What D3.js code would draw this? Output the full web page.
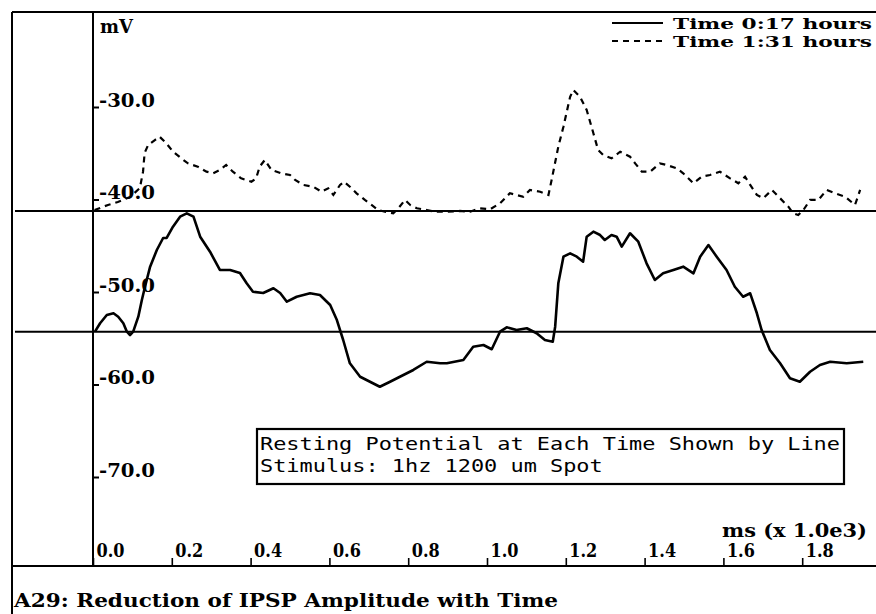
<!DOCTYPE html>
<html>
<head>
<meta charset="utf-8">
<script src="https://cdn.jsdelivr.net/npm/d3@7"></script>
<style>
  body { margin: 0; background: #fff; }
  svg { display: block; }
  .serif { font-family: "DejaVu Serif", serif; font-weight: bold; fill: #000; }
  .mono { font-family: "DejaVu Sans Mono", monospace; fill: #000; }
</style>
</head>
<body>
<svg id="chart" width="876" height="614"></svg>
<script>
// Axis ticks
const xTicks = [0.0, 0.2, 0.4, 0.6, 0.8, 1.0, 1.2, 1.4, 1.6, 1.8];
const yTicks = [-30, -40, -50, -60, -70];

// Series labels and resting potential of each recording (mV)
const seriesNames = ["Time 0:17 hours", "Time 1:31 hours"];
const restingPotentials = [-54.3, -41.24];

// Membrane potential trace at 0:17 hours: [time (s), mV]
const traceEarly = [
  [0.005,-54.29],[0.018,-53.38],[0.035,-52.49],[0.052,-52.30],[0.064,-52.67],[0.077,-53.38],
  [0.086,-54.29],[0.094,-54.65],[0.102,-54.29],[0.115,-52.67],[0.124,-50.86],[0.132,-49.43],
  [0.145,-47.26],[0.162,-45.46],[0.178,-44.16],[0.187,-44.16],[0.203,-42.94],[0.221,-41.86],
  [0.238,-41.49],[0.255,-41.86],[0.272,-44.02],[0.297,-45.64],[0.322,-47.62],[0.348,-47.62],
  [0.373,-47.95],[0.390,-49.06],[0.406,-49.97],[0.432,-50.11],[0.458,-49.60],[0.475,-50.11],
  [0.492,-51.05],[0.517,-50.51],[0.551,-50.14],[0.576,-50.32],[0.602,-51.41],[0.619,-53.03],
  [0.635,-55.19],[0.652,-57.71],[0.678,-59.16],[0.703,-59.70],[0.728,-60.24],[0.754,-59.70],
  [0.779,-59.16],[0.813,-58.43],[0.847,-57.54],[0.881,-57.71],[0.898,-57.71],[0.940,-57.35],
  [0.965,-55.91],[0.991,-55.73],[1.012,-56.19],[1.033,-54.29],[1.050,-53.82],[1.075,-54.11],
  [1.101,-53.92],[1.126,-54.46],[1.147,-55.19],[1.167,-55.37],[1.173,-53.75],[1.181,-49.06],
  [1.194,-46.18],[1.211,-45.82],[1.228,-46.18],[1.244,-46.72],[1.253,-44.02],[1.270,-43.48],
  [1.287,-43.84],[1.299,-44.38],[1.316,-43.84],[1.329,-44.02],[1.342,-45.10],[1.363,-43.65],
  [1.384,-44.56],[1.405,-46.90],[1.426,-48.70],[1.447,-47.98],[1.473,-47.62],[1.498,-47.26],
  [1.524,-47.98],[1.541,-46.18],[1.562,-44.92],[1.583,-46.18],[1.608,-47.62],[1.629,-49.43],
  [1.650,-50.51],[1.668,-50.14],[1.685,-52.30],[1.697,-54.11],[1.718,-56.27],[1.744,-57.71],
  [1.769,-59.33],[1.794,-59.70],[1.820,-58.62],[1.845,-57.89],[1.871,-57.54],[1.913,-57.71],
  [1.955,-57.54]
];

// Membrane potential trace at 1:31 hours: [time (s), mV]
const traceLate = [
  [0.004,-41.14],[0.038,-40.59],[0.063,-40.27],[0.094,-39.73],[0.119,-38.76],[0.127,-36.99],
  [0.131,-34.97],[0.140,-34.11],[0.157,-33.57],[0.169,-33.21],[0.186,-33.92],[0.203,-34.83],
  [0.224,-35.55],[0.241,-36.09],[0.266,-36.45],[0.288,-36.99],[0.305,-37.17],[0.322,-36.81],
  [0.338,-36.27],[0.355,-36.99],[0.376,-37.71],[0.402,-38.08],[0.414,-37.71],[0.423,-36.45],
  [0.436,-35.73],[0.453,-36.81],[0.478,-37.17],[0.500,-37.35],[0.513,-37.89],[0.534,-38.43],
  [0.559,-38.62],[0.580,-39.16],[0.597,-38.79],[0.610,-39.51],[0.627,-38.43],[0.637,-38.08],
  [0.652,-38.62],[0.669,-39.33],[0.690,-40.05],[0.707,-40.59],[0.724,-41.14],[0.741,-41.32],
  [0.762,-41.49],[0.775,-40.95],[0.792,-40.05],[0.805,-40.59],[0.822,-40.95],[0.847,-41.14],
  [0.868,-41.32],[0.898,-41.32],[0.931,-41.24],[0.957,-41.32],[0.982,-40.95],[1.008,-41.06],
  [1.033,-40.41],[1.058,-39.33],[1.092,-39.70],[1.109,-38.97],[1.135,-39.16],[1.156,-39.51],
  [1.164,-37.89],[1.181,-34.29],[1.194,-32.13],[1.211,-28.89],[1.219,-28.16],[1.236,-28.89],
  [1.253,-30.32],[1.270,-32.84],[1.282,-34.65],[1.295,-35.19],[1.316,-35.55],[1.338,-34.83],
  [1.363,-35.37],[1.376,-36.09],[1.393,-36.99],[1.414,-36.99],[1.439,-36.09],[1.456,-36.27],
  [1.482,-36.63],[1.498,-37.17],[1.524,-38.25],[1.545,-37.54],[1.566,-37.35],[1.591,-36.99],
  [1.617,-37.71],[1.638,-38.25],[1.655,-37.54],[1.668,-38.43],[1.685,-39.51],[1.701,-39.87],
  [1.723,-38.97],[1.744,-39.87],[1.765,-40.78],[1.777,-41.49],[1.790,-41.68],[1.803,-41.14],
  [1.820,-40.05],[1.841,-40.05],[1.862,-38.97],[1.883,-39.33],[1.909,-39.70],[1.934,-40.59],
  [1.947,-38.97]
];

const noteLines = [
  "Resting Potential at Each Time Shown by Line",
  "Stimulus: 1hz 1200 um Spot"
];
const xUnitLabel = "ms (x 1.0e3)";
const yUnitLabel = "mV";
const caption = "A29: Reduction of IPSP Amplitude with Time";

const svg = d3.select("#chart");
const W = 876, H = 614;
const frameLeft = 12, frameTop = 12, axisBottom = 566;

const x = d3.scaleLinear().domain([0, 2]).range([93, 881]);
const y = d3.scaleLinear().domain([-30, -70]).range([107, 477]);
const fmt = d => d.toFixed(1);

svg.append("rect").attr("width", W).attr("height", H).attr("fill", "#fff");

// Outer frame: top rule, left rule, bottom rule
svg.append("line").attr("x1", frameLeft).attr("x2", W).attr("y1", frameTop).attr("y2", frameTop)
  .attr("stroke", "#000").attr("stroke-width", 2);
svg.append("line").attr("x1", frameLeft).attr("x2", frameLeft).attr("y1", frameTop).attr("y2", H)
  .attr("stroke", "#000").attr("stroke-width", 2);
svg.append("line").attr("x1", frameLeft).attr("x2", W).attr("y1", axisBottom).attr("y2", axisBottom)
  .attr("stroke", "#000").attr("stroke-width", 2);

// Vertical axis line
svg.append("line").attr("x1", x(0)).attr("x2", x(0)).attr("y1", frameTop).attr("y2", axisBottom)
  .attr("stroke", "#000").attr("stroke-width", 2);

// Y axis ticks and labels
const yAxis = svg.append("g").attr("transform", `translate(${x(0)},0)`)
  .call(d3.axisRight(y).tickValues(yTicks).tickSize(6).tickFormat(fmt));
yAxis.select(".domain").remove();
yAxis.selectAll(".tick line").attr("stroke", "#000").attr("stroke-width", 2);
yAxis.selectAll(".tick text")
  .attr("class", "serif").attr("x", 6).attr("y", -1).attr("dy", 0)
  .attr("font-size", 18).attr("text-anchor", "start")
  .attr("textLength", 56).attr("lengthAdjust", "spacingAndGlyphs");

// X axis ticks and labels
const xAxis = svg.append("g").attr("transform", `translate(0,${axisBottom})`)
  .call(d3.axisTop(x).tickValues(xTicks).tickSize(8).tickFormat(fmt));
xAxis.select(".domain").remove();
xAxis.selectAll(".tick line").attr("stroke", "#000").attr("stroke-width", 1.6);
xAxis.selectAll(".tick text")
  .attr("class", "serif").attr("x", 3).attr("y", -9).attr("dy", 0)
  .attr("font-size", 18).attr("text-anchor", "start")
  .attr("textLength", 28).attr("lengthAdjust", "spacingAndGlyphs");

// Axis unit labels
svg.append("text").attr("class", "serif").attr("x", 100).attr("y", 33)
  .attr("font-size", 19).text(yUnitLabel)
  .attr("textLength", 33).attr("lengthAdjust", "spacingAndGlyphs");
svg.append("text").attr("class", "serif").attr("x", 722).attr("y", 537)
  .attr("font-size", 18).text(xUnitLabel)
  .attr("textLength", 145).attr("lengthAdjust", "spacingAndGlyphs");

// Resting potential reference lines
svg.selectAll("line.rest").data(restingPotentials).enter().append("line")
  .attr("class", "rest")
  .attr("x1", frameLeft + 3).attr("x2", W)
  .attr("y1", d => y(d)).attr("y2", d => y(d))
  .attr("stroke", "#000").attr("stroke-width", 2);

// Traces
const line = d3.line().x(d => x(d[0])).y(d => y(d[1])).curve(d3.curveLinear);
svg.append("path").datum(traceEarly).attr("d", line)
  .attr("fill", "none").attr("stroke", "#000").attr("stroke-width", 2.6)
  .attr("stroke-linejoin", "round");
svg.append("path").datum(traceLate).attr("d", line)
  .attr("fill", "none").attr("stroke", "#000").attr("stroke-width", 2.2)
  .attr("stroke-dasharray", "6,5");

// Legend
const legend = svg.append("g");
seriesNames.forEach((name, i) => {
  const ly = 23 + i * 18;
  legend.append("line").attr("x1", 612).attr("x2", 663).attr("y1", ly).attr("y2", ly)
    .attr("stroke", "#000").attr("stroke-width", 2)
    .attr("stroke-dasharray", i === 0 ? null : "6,5");
  legend.append("text").attr("class", "serif").attr("x", 673).attr("y", ly + 6)
    .attr("font-size", 14.5).text(name)
    .attr("textLength", 199).attr("lengthAdjust", "spacingAndGlyphs");
});

// Annotation box
svg.append("rect").attr("x", 257).attr("y", 429).attr("width", 587).attr("height", 55)
  .attr("fill", "#fff").attr("stroke", "#000").attr("stroke-width", 2.2);
const charW = 580 / noteLines[0].length;
noteLines.forEach((t, i) => {
  svg.append("text").attr("class", "mono").attr("x", 260).attr("y", 450 + i * 22)
    .attr("font-size", 17).text(t)
    .attr("textLength", charW * t.length).attr("lengthAdjust", "spacingAndGlyphs");
});

// Caption
svg.append("text").attr("class", "serif").attr("x", 14).attr("y", 607)
  .attr("font-size", 18).text(caption)
  .attr("textLength", 544).attr("lengthAdjust", "spacingAndGlyphs");
</script>
</body>
</html>
